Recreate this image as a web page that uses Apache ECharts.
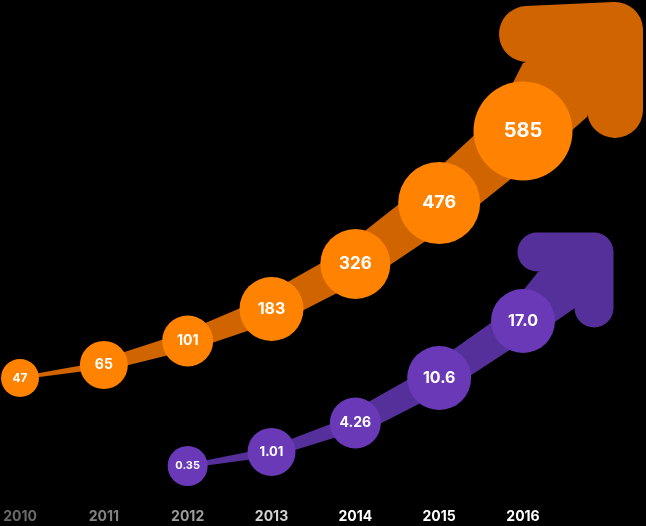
<!DOCTYPE html>
<html><head><meta charset="utf-8">
<script src="https://cdn.jsdelivr.net/npm/echarts@6/dist/echarts.min.js"></script>
<style>html,body{margin:0;padding:0;background:#000;} #chart{width:646px;height:526px;}</style>
</head><body><div id="chart"></div>
<script>
// ---- data ----
const years = ['2010', '2011', '2012', '2013', '2014', '2015', '2016'];
const orangeValues = [47, 65, 101, 183, 326, 476, 585];
const purpleValues = [null, null, 0.35, 1.01, 4.26, 10.6, 17.0];
// stylised rise of each bubble along its curve (chart units)
const orangeRise = [122, 135, 159, 191, 236, 297, 369];
const purpleRise = [null, null, 34, 48, 77, 122, 179];

// ---- styles ----
const FONT = 'Inter';
const yearColors = ['#6a6a6a', '#828282', '#9c9c9c', '#d2d2d2', '#ffffff', '#ffffff', '#ffffff'];
const orangeStyle = {
  bubble: '#ff8300', ribbon: '#d06500',
  sizes: [38, 48, 51, 64, 70, 82, 99],
  fonts: [12, 14, 14, 16, 17, 18, 20],
  widths: [[3, 7], [12, 18], [19, 26], [31, 35], [40, 48], [52, 60]],
  shaftW: 64,
  corner: [92, -101], leftEnd: [-88, 4], downEnd: [0, 80],
  leftNotch: [-92, 33], downNotch: [-28, 87], headW: 56
};
const purpleStyle = {
  bubble: '#6a39b8', ribbon: '#55309a',
  sizes: [40, 48, 51, 64, 64],
  fonts: [11, 13, 14, 16, 16],
  widths: [[4, 9], [10, 16], [24, 28], [30, 34]],
  shaftW: 38,
  corner: [71, -69], leftEnd: [-57, 0], downEnd: [0, 56],
  leftNotch: [-56, 20], downNotch: [-19, 56], headW: 39
};

function points(values, rise) {
  const pts = [];
  values.forEach((v, i) => { if (v != null) pts.push([i, rise[i], v]); });
  return pts;
}
function fmt(v) { return v >= 20 ? String(v) : (v < 10 ? v.toFixed(2) : v.toFixed(1)); }

function ribbonSeries(pts, st, z) {
  return {
    type: 'custom', clip: false, silent: true, z: z,
    encode: { x: 0, y: 1 },
    data: pts,
    renderItem: function (params, api) {
      const j = params.dataIndex;
      const p0 = api.coord([pts[j][0], pts[j][1]]);
      if (j < pts.length - 1) {
        const p1 = api.coord([pts[j + 1][0], pts[j + 1][1]]);
        const dx = p1[0] - p0[0], dy = p1[1] - p0[1];
        const L = Math.hypot(dx, dy);
        const nx = -dy / L, ny = dx / L;
        const w0 = st.widths[j][0] / 2, w1 = st.widths[j][1] / 2;
        return {
          type: 'polygon',
          shape: { points: [
            [p0[0] + nx * w0, p0[1] + ny * w0], [p1[0] + nx * w1, p1[1] + ny * w1],
            [p1[0] - nx * w1, p1[1] - ny * w1], [p0[0] - nx * w0, p0[1] - ny * w0]] },
          style: { fill: st.ribbon }
        };
      }
      // arrow shaft + head
      const c = [p0[0] + st.corner[0], p0[1] + st.corner[1]];
      const dx = c[0] - p0[0], dy = c[1] - p0[1];
      const L = Math.hypot(dx, dy);
      const nx = -dy / L, ny = dx / L;
      const h = st.shaftW / 2;
      const add = (a, o) => [a[0] + o[0], a[1] + o[1]];
      return {
        type: 'group',
        children: [
          { type: 'polygon', shape: { points: [
              [p0[0] - nx * h, p0[1] - ny * h], add(c, st.leftNotch), c,
              add(c, st.downNotch), [p0[0] + nx * h, p0[1] + ny * h]] },
            style: { fill: st.ribbon } },
          { type: 'polyline', shape: { points: [add(c, st.leftEnd), c, add(c, st.downEnd)] },
            style: { fill: null, stroke: st.ribbon, lineWidth: st.headW, lineCap: 'round', lineJoin: 'round' } }
        ]
      };
    }
  };
}

function bubbleSeries(pts, st, z) {
  return {
    type: 'scatter', z: z, silent: true,
    data: pts.map((p, k) => ({
      value: p,
      symbolSize: st.sizes[k],
      label: { fontSize: st.fonts[k] }
    })),
    symbol: 'circle',
    itemStyle: { color: st.bubble, opacity: 1 },
    label: {
      show: true, position: 'inside', color: '#fff', fontFamily: FONT, fontWeight: 'bold',
      formatter: p => fmt(p.value[2])
    }
  };
}

const oPts = points(orangeValues, orangeRise);
const pPts = points(purpleValues, purpleRise);

const chart = echarts.init(document.getElementById('chart'), null, { renderer: 'canvas' });
chart.setOption({
  backgroundColor: '#000',
  animation: false,
  grid: { left: 20, right: 123, top: 0, bottom: 26, containLabel: false },
  xAxis: {
    type: 'category', data: years, boundaryGap: false,
    axisLine: { show: false }, axisTick: { show: false }, splitLine: { show: false },
    axisLabel: {
      margin: 10, fontSize: 14, fontWeight: 'bold', fontFamily: FONT,
      color: (v, i) => yearColors[i]
    }
  },
  yAxis: { type: 'value', min: 0, max: 500, show: false, splitLine: { show: false } },
  series: [
    ribbonSeries(oPts, orangeStyle, 1),
    bubbleSeries(oPts, orangeStyle, 2),
    ribbonSeries(pPts, purpleStyle, 3),
    bubbleSeries(pPts, purpleStyle, 4)
  ]
});
</script></body></html>
